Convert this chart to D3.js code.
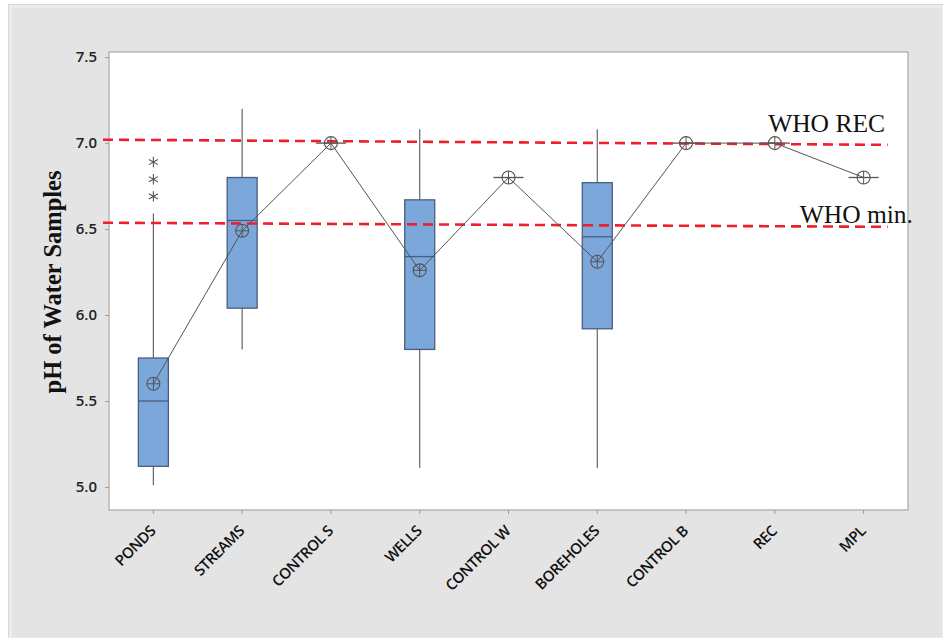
<!DOCTYPE html>
<html>
<head>
<meta charset="utf-8">
<script src="https://cdn.jsdelivr.net/npm/d3@7"></script>
<style>
  html, body { margin: 0; padding: 0; background: #ffffff; }
  svg { display: block; }
</style>
</head>
<body>
<svg id="chart" width="943" height="638"></svg>
<script>
// pH of water samples by source: box plots with connected means
const categories = ["PONDS", "STREAMS", "CONTROL S", "WELLS", "CONTROL W", "BOREHOLES", "CONTROL B", "REC", "MPL"];
const whiskerLow  = [5.01, 5.80, 7.00, 5.11, 6.80, 5.11, 7.00, 7.00, 6.80];
const q1          = [5.12, 6.04, 7.00, 5.80, 6.80, 5.92, 7.00, 7.00, 6.80];
const median      = [5.50, 6.55, 7.00, 6.34, 6.80, 6.455, 7.00, 7.00, 6.80];
const q3          = [5.75, 6.80, 7.00, 6.67, 6.80, 6.77, 7.00, 7.00, 6.80];
const whiskerHigh = [6.59, 7.20, 7.00, 7.08, 6.80, 7.08, 7.00, 7.00, 6.80];
const means       = [5.60, 6.49, 7.00, 6.26, 6.80, 6.31, 7.00, 7.00, 6.80];
const outlierCategory = ["PONDS", "PONDS", "PONDS"];
const outlierValues   = [6.69, 6.79, 6.89];
const yTicks = [5.0, 5.5, 6.0, 6.5, 7.0, 7.5];
// WHO guideline lines (value at left end, value at right end)
const whoRec = [7.02, 6.99];
const whoMin = [6.537, 6.513];
const whoLabels = ["WHO REC", "WHO min."];

const svg = d3.select("#chart");
const W = 943, H = 638;
const plot = { left: 109, right: 908, top: 52, bottom: 510 };
const sans = "'Open Sans', 'Noto Sans', sans-serif";
const serif = "'Liberation Serif', 'Times New Roman', serif";

// page background panel
svg.append("rect").attr("x", 0).attr("y", 0).attr("width", W).attr("height", H).attr("fill", "#ffffff");
svg.append("rect").attr("x", 8.5).attr("y", 4.5).attr("width", W - 8).attr("height", H - 4)
  .attr("fill", "#e4e4e4").attr("stroke", "#d6d6d6").attr("stroke-width", 1);
svg.append("rect").attr("x", 10.5).attr("y", 6.5).attr("width", W - 10).attr("height", H - 6)
  .attr("fill", "none").attr("stroke", "#ececec").attr("stroke-width", 3);

// plot area
svg.append("rect").attr("x", plot.left).attr("y", plot.top)
  .attr("width", plot.right - plot.left).attr("height", plot.bottom - plot.top)
  .attr("fill", "#ffffff").attr("stroke", "#a9a9a9").attr("stroke-width", 1.2);

const x = d3.scaleBand().domain(categories).range([plot.left, plot.right]).padding(0);
const y = d3.scaleLinear().domain([4.866, 7.53]).range([plot.bottom, plot.top]);
const cx = c => x(c) + x.bandwidth() / 2;
const boxW = 30;

// y axis
const yAxis = d3.axisLeft(y).tickValues(yTicks).tickFormat(d3.format(".1f")).tickSize(4).tickPadding(8);
const gy = svg.append("g").attr("transform", `translate(${plot.left},0)`).call(yAxis);
gy.select(".domain").remove();
gy.selectAll(".tick line").attr("stroke", "#9a9a9a");
gy.selectAll(".tick text").attr("font-family", sans)
  .attr("font-size", 15).attr("font-weight", 600).attr("fill", "#222");

// x axis
const xAxis = d3.axisBottom(x).tickSize(4).tickFormat("");
const gx = svg.append("g").attr("transform", `translate(0,${plot.bottom})`).call(xAxis);
gx.select(".domain").remove();
gx.selectAll(".tick line").attr("stroke", "#9a9a9a");
svg.append("g").selectAll("text").data(categories).join("text")
  .attr("transform", d => `translate(${cx(d) + 3},${plot.bottom + 22}) rotate(-45)`)
  .attr("text-anchor", "end")
  .attr("font-family", sans)
  .attr("font-size", 15).attr("font-weight", 600).attr("fill", "#111")
  .attr("letter-spacing", -0.5)
  .text(d => d);

// y axis title
svg.append("text")
  .attr("transform", `translate(61,${(plot.top + plot.bottom) / 2 + 1}) rotate(-90)`)
  .attr("text-anchor", "middle")
  .attr("font-family", serif)
  .attr("font-weight", "bold").attr("font-size", 24.5).attr("fill", "#111")
  .text("pH of Water Samples");

// boxes
const stats = categories.map((c, i) => ({
  c, lo: whiskerLow[i], q1: q1[i], med: median[i], q3: q3[i], hi: whiskerHigh[i], mean: means[i]
}));
const boxes = svg.append("g").selectAll("g").data(stats).join("g");
boxes.append("line")
  .attr("x1", d => cx(d.c)).attr("x2", d => cx(d.c))
  .attr("y1", d => y(d.q3)).attr("y2", d => y(d.hi))
  .attr("stroke", "#666").attr("stroke-width", 1.2);
boxes.append("line")
  .attr("x1", d => cx(d.c)).attr("x2", d => cx(d.c))
  .attr("y1", d => y(d.lo)).attr("y2", d => y(d.q1))
  .attr("stroke", "#666").attr("stroke-width", 1.2);
boxes.filter(d => d.q3 > d.q1).append("rect")
  .attr("x", d => cx(d.c) - boxW / 2).attr("width", boxW)
  .attr("y", d => y(d.q3)).attr("height", d => y(d.q1) - y(d.q3))
  .attr("fill", "#7ba7db").attr("stroke", "#4b5d7c").attr("stroke-width", 1.3);
boxes.append("line")
  .attr("x1", d => cx(d.c) - boxW / 2).attr("x2", d => cx(d.c) + boxW / 2)
  .attr("y1", d => y(d.med)).attr("y2", d => y(d.med))
  .attr("stroke", d => d.q3 > d.q1 ? "#4b5d7c" : "#555").attr("stroke-width", 1.3);

// outliers
svg.append("g").selectAll("path").data(outlierValues).join("path")
  .attr("transform", (d, i) => `translate(${cx(outlierCategory[i])},${y(d)})`)
  .attr("d", d3.symbol(d3.symbolAsterisk, 75))
  .attr("fill", "none").attr("stroke", "#555").attr("stroke-width", 1.1);

// WHO guideline lines
const refX0 = plot.left - 6;
const refX1 = cx("MPL") + 24;
[whoRec, whoMin].forEach(v => {
  svg.append("line")
    .attr("x1", refX0).attr("x2", refX1)
    .attr("y1", y(v[0])).attr("y2", y(v[1]))
    .attr("stroke", "#ee1f2b").attr("stroke-width", 2.6)
    .attr("stroke-dasharray", "10,6");
});

// mean connect line
svg.append("path")
  .datum(stats)
  .attr("d", d3.line().x(d => cx(d.c)).y(d => y(d.mean)))
  .attr("fill", "none").attr("stroke", "#555").attr("stroke-width", 1);

// mean symbols: circle with cross
const r = 6.5;
const ms = svg.append("g").selectAll("g").data(stats).join("g")
  .attr("transform", d => `translate(${cx(d.c)},${y(d.mean)})`);
ms.append("circle").attr("r", r).attr("fill", "none").attr("stroke", "#555").attr("stroke-width", 1.1);
ms.append("line").attr("x1", -r).attr("x2", r).attr("stroke", "#555").attr("stroke-width", 1);
ms.append("line").attr("y1", -r).attr("y2", r).attr("stroke", "#555").attr("stroke-width", 1);

// guideline labels
svg.append("text")
  .attr("x", 885).attr("y", y(whoRec[1]) - 13)
  .attr("text-anchor", "end")
  .attr("font-family", serif)
  .attr("font-size", 25.5).attr("fill", "#111")
  .text(whoLabels[0]);
svg.append("text")
  .attr("x", 913).attr("y", y(whoMin[1]) - 4)
  .attr("text-anchor", "end")
  .attr("font-family", serif)
  .attr("font-size", 25.5).attr("fill", "#111")
  .text(whoLabels[1]);
</script>
</body>
</html>
